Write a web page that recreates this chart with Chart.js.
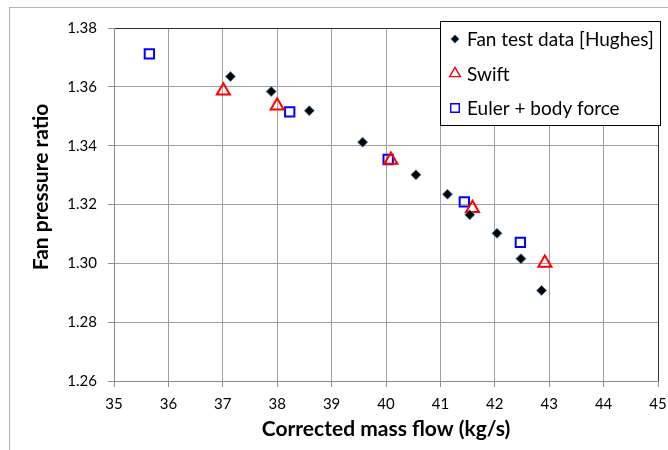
<!DOCTYPE html>
<html>
<head>
<meta charset="utf-8">
<script src="https://cdn.jsdelivr.net/npm/chart.js@4/dist/chart.umd.min.js"></script>
<style>
  html, body { margin: 0; padding: 0; background: #fff; }
  canvas { display: block; }
</style>
</head>
<body>
<canvas id="fanChart" width="668" height="450"></canvas>
<script>
// Fan test data [Hughes]
const hughesX = [37.14, 37.89, 38.59, 39.57, 40.55, 41.13, 41.54, 42.04, 42.48, 42.86];
const hughesY = [1.3635, 1.3584, 1.3519, 1.3412, 1.3301, 1.3235, 1.3165, 1.3102, 1.3016, 1.2908];
// Swift
const swiftX = [37.01, 38.00, 40.09, 41.59, 42.92];
const swiftY = [1.3587, 1.3536, 1.3351, 1.3187, 1.3001];
// Euler + body force
const eulerX = [35.65, 38.23, 40.04, 41.44, 42.47];
const eulerY = [1.3712, 1.3515, 1.3353, 1.3209, 1.3071];

const xMin = 35, xMax = 45, xStep = 1;
const yMin = 1.26, yMax = 1.38, yStep = 0.02;

const xTitle = 'Corrected mass flow (kg/s)';
const yTitle = 'Fan pressure ratio';

const FONT = 'Lato, "Open Sans", sans-serif';

const toPoints = (xs, ys) => xs.map((x, i) => ({ x: x, y: ys[i] }));

// outer frame of the chart area (like the spreadsheet chart border)
const framePlugin = {
    id: 'frame',
    beforeDraw(chart) {
        const c = chart.ctx;
        c.save();
        c.fillStyle = '#fff';
        c.fillRect(0, 0, chart.width, chart.height);
        c.strokeStyle = '#b4b4b4';
        c.lineWidth = 1;
        c.strokeRect(9.5, 7.5, chart.width + 20, chart.height + 20);
        c.restore();
    }
};

// y axis title, centred on the whole chart height rather than the plot
const yTitlePlugin = {
    id: 'yTitle',
    afterDraw(chart) {
        const c = chart.ctx;
        c.save();
        c.translate(41, 187);
        c.rotate(-Math.PI / 2);
        c.fillStyle = '#000';
        c.font = 'bold 21px ' + FONT;
        c.textAlign = 'center';
        c.textBaseline = 'middle';
        c.fillText(yTitle, 0, 0);
        c.restore();
    }
};

function drawMarker(c, style, r, x, y) {
    if (style === 'rectRot') {
        c.moveTo(x, y - r); c.lineTo(x + r, y); c.lineTo(x, y + r); c.lineTo(x - r, y); c.closePath();
    } else if (style === 'triangle') {
        c.moveTo(x, y - r);
        c.lineTo(x + r * Math.sin(2 * Math.PI / 3), y + r / 2);
        c.lineTo(x - r * Math.sin(2 * Math.PI / 3), y + r / 2);
        c.closePath();
    } else {
        const s = r * Math.SQRT1_2;
        c.rect(x - s, y - s, 2 * s, 2 * s);
    }
}

// boxed legend drawn over the top-right corner of the plot
const boxLegend = {
    id: 'boxLegend',
    afterDraw(chart) {
        const c = chart.ctx;
        const x0 = 440.5, y0 = 21.5, w = 220, h = 104;
        c.save();
        c.fillStyle = '#fff';
        c.fillRect(x0, y0, w, h);
        c.strokeStyle = '#000';
        c.lineWidth = 1;
        c.strokeRect(x0, y0, w, h);
        const rowY = [39, 73.5, 108];
        const legendRadius = [4.2, 6.2, 6];
        chart.data.datasets.forEach((ds, i) => {
            c.fillStyle = ds.backgroundColor;
            c.strokeStyle = ds.borderColor;
            c.lineWidth = ds.borderWidth === 1 ? 1 : 1.4;
            c.beginPath();
            drawMarker(c, ds.pointStyle, legendRadius[i], 455, rowY[i]);
            if (ds.pointStyle === 'rectRot') c.fill();
            c.stroke();
            c.fillStyle = '#000';
            c.font = '19px ' + FONT;
            c.textBaseline = 'middle';
            c.textAlign = 'left';
            c.fillText(ds.label, 467, rowY[i] + 1);
        });
        c.restore();
    }
};

new Chart(document.getElementById('fanChart'), {
    type: 'scatter',
    data: {
        datasets: [
            {
                label: 'Fan test data [Hughes]',
                data: toPoints(hughesX, hughesY),
                pointStyle: 'rectRot',
                pointRadius: 5,
                backgroundColor: '#000',
                borderColor: 'rgba(79,129,189,0.85)',
                borderWidth: 1
            },
            {
                label: 'Swift',
                data: toPoints(swiftX, swiftY),
                pointStyle: 'triangle',
                pointRadius: 7.5,
                backgroundColor: 'rgba(0,0,0,0)',
                borderColor: '#ff0000',
                borderWidth: 2
            },
            {
                label: 'Euler + body force',
                data: toPoints(eulerX, eulerY),
                pointStyle: 'rect',
                pointRadius: 6.6,
                backgroundColor: 'rgba(0,0,0,0)',
                borderColor: '#0000ff',
                borderWidth: 2
            }
        ]
    },
    options: {
        responsive: false,
        animation: false,
        devicePixelRatio: 1,
        layout: { padding: { top: 28, right: 10, left: 0, bottom: 0 } },
        plugins: {
            legend: { display: false },
            tooltip: { enabled: false }
        },
        scales: {
            x: {
                type: 'linear',
                min: xMin, max: xMax,
                afterFit: (s) => { s.height = 69; s.paddingLeft = 0; s.paddingRight = 0; },
                ticks: {
                    stepSize: xStep,
                    color: '#000',
                    font: { family: FONT, size: 15 },
                    padding: 8,
                    maxRotation: 0
                },
                grid: {
                    color: (ctx) => ctx.tick && ctx.tick.value === xMax ? '#303030' : '#a0a0a0',
                    tickColor: '#909090',
                    tickLength: 6
                },
                border: { color: '#8a8a8a' },
                title: {
                    display: true,
                    text: xTitle,
                    color: '#000',
                    font: { family: FONT, size: 21, weight: 'bold' },
                    padding: { top: 0, bottom: 8 }
                }
            },
            y: {
                type: 'linear',
                min: yMin, max: yMax,
                afterFit: (s) => { s.width = 114; },
                ticks: {
                    stepSize: yStep,
                    color: '#000',
                    font: { family: FONT, size: 15 },
                    padding: 11,
                    callback: (v) => v.toFixed(2)
                },
                grid: {
                    color: (ctx) => ctx.tick && Math.abs(ctx.tick.value - yMax) < 1e-9 ? '#303030' : '#a0a0a0',
                    tickColor: '#909090',
                    tickLength: 6
                },
                border: { color: '#8a8a8a' }
            }
        }
    },
    plugins: [framePlugin, yTitlePlugin, boxLegend]
});
</script>
</body>
</html>
